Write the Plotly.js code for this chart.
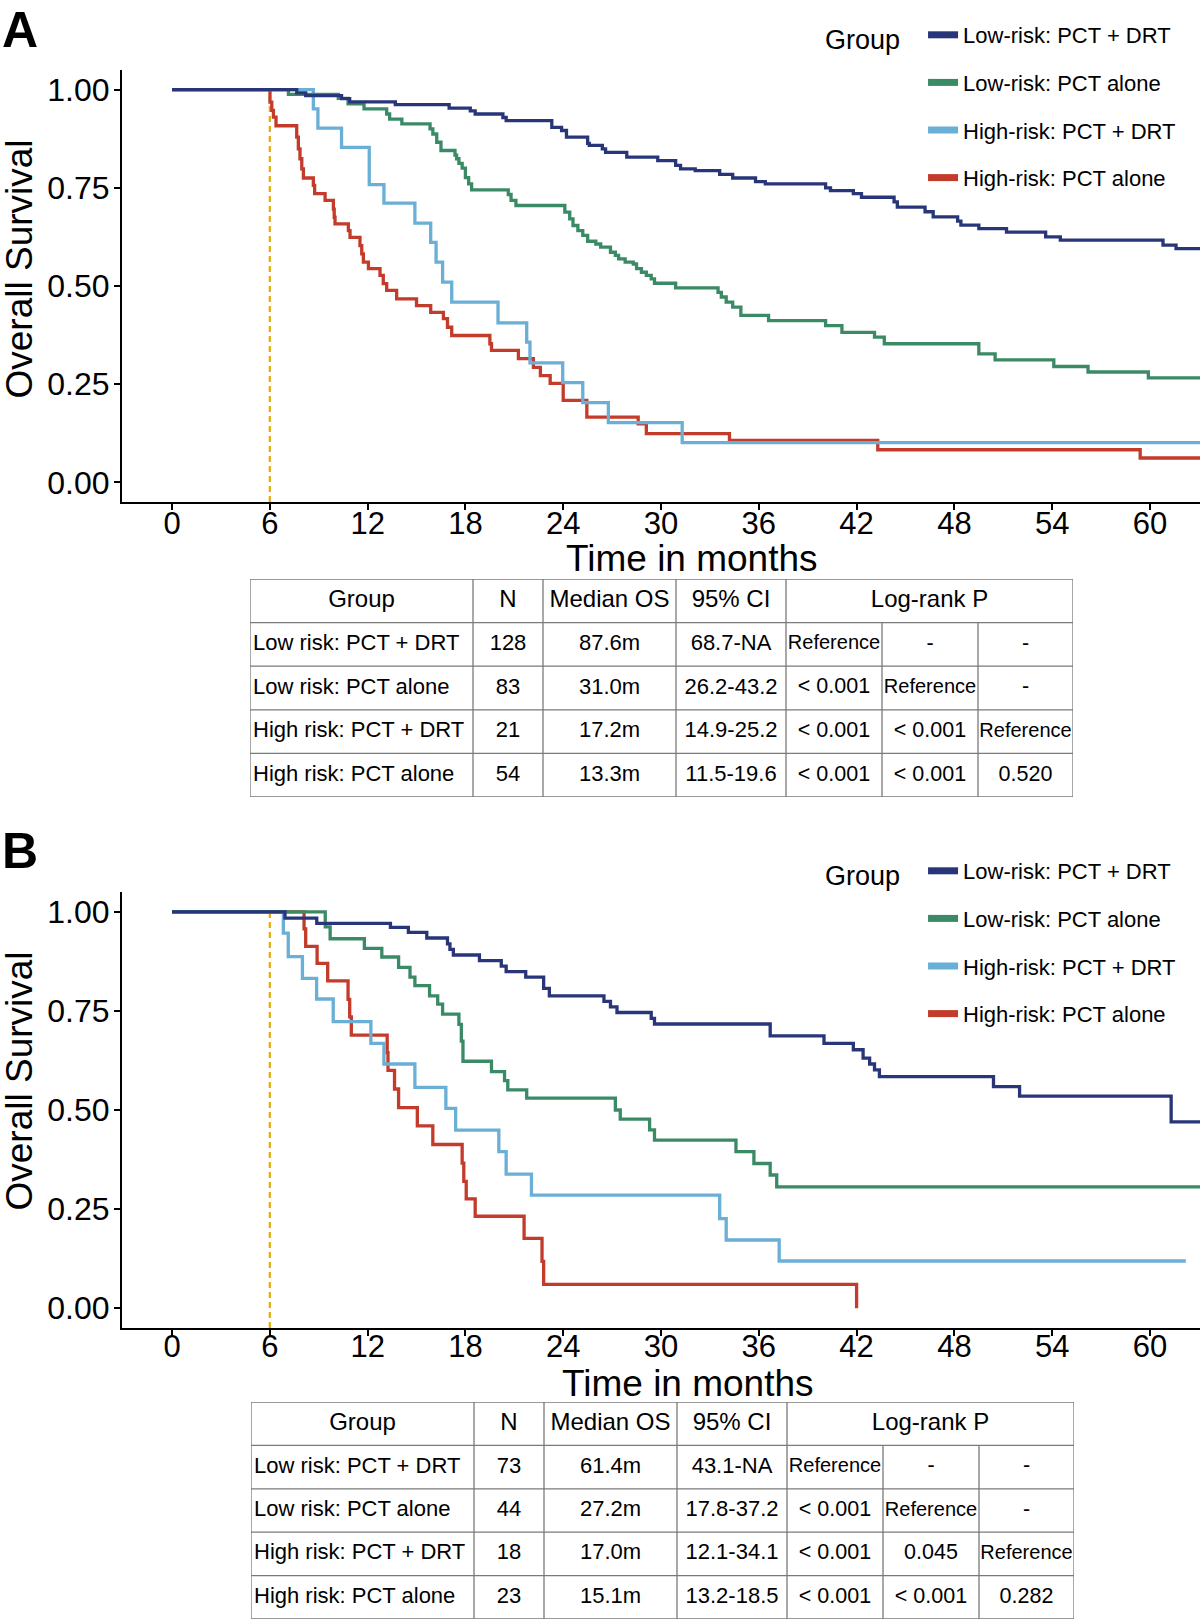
<!DOCTYPE html>
<html>
<head>
<meta charset="utf-8">
<script src="https://cdn.plot.ly/plotly-3.0.1.min.js"></script>
<style>html,body{margin:0;padding:0;background:#fff;}#chart{width:1200px;height:1622px;}</style>
</head>
<body>
<div id="chart"></div>
<script>
// ---------------- data ----------------
const groupNames = ["Low-risk: PCT + DRT", "Low-risk: PCT alone", "High-risk: PCT + DRT", "High-risk: PCT alone"];
const landmarkMonth = 6;
const monthTicks = [0, 6, 12, 18, 24, 30, 36, 42, 48, 54, 60];
const survTicks = [0, 0.25, 0.5, 0.75, 1];

// Panel A curves (months, overall survival)
const aLowDrtMonths = [0, 7.65, 8.2, 10.4, 10.9, 13.7, 17.0, 18.3, 18.6, 20.3, 20.5, 23.3, 23.9, 24.2, 25.5, 25.6, 26.4, 26.6, 27.9, 29.8, 30.9, 31.2, 32.1, 33.6, 34.4, 35.8, 36.4, 40.1, 40.4, 41.8, 42.3, 44.3, 44.5, 46.2, 46.7, 48.2, 48.4, 49.5, 51.2, 53.6, 54.5, 60.8, 61.6, 63.1];
const aLowDrtSurv = [1, 0.992, 0.985, 0.977, 0.969, 0.962, 0.953, 0.946, 0.938, 0.929, 0.921, 0.904, 0.896, 0.879, 0.863, 0.858, 0.849, 0.840, 0.828, 0.819, 0.807, 0.798, 0.794, 0.784, 0.775, 0.766, 0.760, 0.750, 0.743, 0.735, 0.726, 0.714, 0.701, 0.689, 0.676, 0.665, 0.655, 0.646, 0.637, 0.625, 0.617, 0.604, 0.595, 0.595];

const aLowAloneMonths = [0, 7.14, 10.2, 10.8, 11.78, 13.17, 13.35, 14.1, 15.83, 16.0, 16.24, 16.5, 17.36, 17.46, 17.6, 17.8, 18.0, 18.2, 18.38, 20.63, 20.8, 21.1, 24.1, 24.4, 24.6, 24.9, 25.2, 25.5, 26.0, 26.3, 26.9, 27.2, 27.4, 27.8, 28.3, 28.5, 28.8, 29.1, 29.4, 29.6, 30.9, 33.5, 33.7, 34.0, 34.4, 34.9, 36.6, 40.1, 41.1, 43.1, 43.7, 49.5, 50.5, 54.1, 56.2, 59.9, 63.1];
const aLowAloneSurv = [1, 0.988, 0.978, 0.964, 0.951, 0.938, 0.925, 0.913, 0.900, 0.887, 0.866, 0.845, 0.833, 0.824, 0.812, 0.800, 0.776, 0.760, 0.745, 0.733, 0.718, 0.705, 0.688, 0.671, 0.654, 0.641, 0.629, 0.614, 0.607, 0.599, 0.586, 0.578, 0.569, 0.561, 0.556, 0.544, 0.535, 0.527, 0.518, 0.507, 0.495, 0.484, 0.472, 0.459, 0.446, 0.425, 0.412, 0.399, 0.382, 0.370, 0.353, 0.327, 0.312, 0.295, 0.281, 0.266, 0.266];

const aHighDrtMonths = [0, 8.67, 8.95, 10.4, 12.1, 13.0, 14.9, 15.87, 16.2, 16.6, 17.16, 20.0, 21.76, 21.96, 23.97, 25.2, 26.77, 31.3, 63.1];
const aHighDrtSurv = [1, 0.951, 0.902, 0.853, 0.758, 0.711, 0.660, 0.611, 0.561, 0.510, 0.459, 0.406, 0.357, 0.304, 0.254, 0.203, 0.152, 0.101, 0.101];

const aHighAloneMonths = [0, 6.01, 6.12, 6.22, 6.38, 7.65, 7.75, 7.85, 7.96, 8.06, 8.67, 8.75, 9.39, 9.9, 9.95, 10.0, 10.82, 10.92, 11.53, 11.64, 11.74, 12.05, 12.76, 12.96, 13.17, 13.78, 15.0, 15.87, 16.65, 16.9, 17.16, 19.5, 19.6, 21.25, 22.17, 22.6, 23.2, 24.0, 25.45, 28.6, 29.1, 34.2, 43.3, 59.4, 63.1];
const aHighAloneSurv = [1, 0.968, 0.947, 0.930, 0.908, 0.879, 0.849, 0.824, 0.798, 0.775, 0.756, 0.735, 0.718, 0.696, 0.675, 0.658, 0.641, 0.624, 0.603, 0.582, 0.561, 0.544, 0.527, 0.506, 0.489, 0.467, 0.450, 0.433, 0.417, 0.395, 0.374, 0.353, 0.336, 0.315, 0.293, 0.272, 0.252, 0.209, 0.166, 0.149, 0.124, 0.107, 0.083, 0.062, 0.062];

// Panel B curves
const bLowDrtMonths = [0, 6.93, 8.88, 13.4, 14.5, 15.63, 16.9, 17.05, 17.26, 18.86, 20.2, 20.5, 21.7, 22.8, 23.15, 26.5, 26.9, 27.3, 29.4, 29.6, 36.7, 40.0, 41.8, 42.4, 42.8, 43.1, 43.4, 50.4, 52.0, 61.3, 63.1];
const bLowDrtSurv = [1, 0.984, 0.971, 0.961, 0.948, 0.934, 0.919, 0.905, 0.891, 0.877, 0.863, 0.849, 0.835, 0.807, 0.788, 0.774, 0.760, 0.746, 0.731, 0.717, 0.687, 0.668, 0.652, 0.631, 0.616, 0.601, 0.584, 0.559, 0.535, 0.470, 0.470];

const bLowAloneMonths = [0, 9.4, 9.7, 11.8, 12.87, 13.9, 14.6, 14.9, 15.8, 16.3, 16.6, 17.6, 17.75, 17.85, 19.6, 20.4, 20.6, 21.76, 27.2, 27.5, 29.3, 29.6, 34.6, 35.7, 36.7, 37.1, 63.1];
const bLowAloneSurv = [1, 0.962, 0.932, 0.908, 0.886, 0.860, 0.835, 0.814, 0.788, 0.767, 0.742, 0.716, 0.674, 0.623, 0.597, 0.574, 0.551, 0.530, 0.500, 0.477, 0.450, 0.424, 0.395, 0.365, 0.336, 0.306, 0.306];

const bHighDrtMonths = [0, 6.83, 7.13, 8.0, 8.87, 9.89, 12.2, 13.0, 14.9, 16.8, 17.4, 20.05, 20.5, 22.05, 33.6, 34.0, 37.25, 62.2];
const bHighDrtSurv = [1, 0.946, 0.887, 0.832, 0.780, 0.723, 0.668, 0.616, 0.557, 0.504, 0.449, 0.395, 0.338, 0.285, 0.226, 0.172, 0.119, 0.119];

const bHighAloneMonths = [0, 8.1, 8.2, 8.9, 9.55, 10.8, 10.9, 11.0, 13.2, 13.25, 13.65, 13.9, 15.05, 16.0, 17.8, 17.9, 18.05, 18.6, 21.6, 22.7, 22.8, 42.0];
const bHighAloneSurv = [1, 0.957, 0.913, 0.870, 0.826, 0.779, 0.735, 0.689, 0.645, 0.600, 0.553, 0.506, 0.460, 0.413, 0.366, 0.320, 0.276, 0.232, 0.176, 0.118, 0.060, 0.0];

// Tables
const tableHeader = ["Group", "N", "Median OS", "95% CI", "Log-rank P"];
const tableGroups = ["Low risk: PCT + DRT", "Low risk: PCT alone", "High risk: PCT + DRT", "High risk: PCT alone"];
const aN = ["128", "83", "21", "54"];
const aMedian = ["87.6m", "31.0m", "17.2m", "13.3m"];
const aCI = ["68.7-NA", "26.2-43.2", "14.9-25.2", "11.5-19.6"];
const aP1 = ["Reference", "< 0.001", "< 0.001", "< 0.001"];
const aP2 = ["-", "Reference", "< 0.001", "< 0.001"];
const aP3 = ["-", "-", "Reference", "0.520"];
const bN = ["73", "44", "18", "23"];
const bMedian = ["61.4m", "27.2m", "17.0m", "15.1m"];
const bCI = ["43.1-NA", "17.8-37.2", "12.1-34.1", "13.2-18.5"];
const bP1 = ["Reference", "< 0.001", "< 0.001", "< 0.001"];
const bP2 = ["-", "Reference", "0.045", "< 0.001"];
const bP3 = ["-", "-", "Reference", "0.282"];

// ---------------- styling / layout ----------------
const FONT = "'Liberation Sans', Arial, sans-serif";
const W = 1200, H = 1622;
const colors = ["#283679", "#3A8A66", "#6AAFD6", "#C33B2A"];
const landmarkColor = "#E3B01A";
const xRange = [-3.07, 63.07];
const yRange = [-0.05, 1.05];
const fx = p => p / W;
const fy = p => 1 - p / H;

const panels = [
  {xa: "x", ya: "y", top: 70, bottom: 502, legend: "legend", tickShift: -13,
   curves: [[aLowDrtMonths, aLowDrtSurv], [aLowAloneMonths, aLowAloneSurv], [aHighDrtMonths, aHighDrtSurv], [aHighAloneMonths, aHighAloneSurv]]},
  {xa: "x2", ya: "y2", top: 892, bottom: 1328, legend: "legend2", tickShift: -16,
   curves: [[bLowDrtMonths, bLowDrtSurv], [bLowAloneMonths, bLowAloneSurv], [bHighDrtMonths, bHighDrtSurv], [bHighAloneMonths, bHighAloneSurv]]}
];

const traces = [];
panels.forEach(p => {
  traces.push({x: [landmarkMonth, landmarkMonth], y: [yRange[0], 1], xaxis: p.xa, yaxis: p.ya, mode: "lines",
    line: {color: landmarkColor, width: 2.3, dash: "6px,4px"}, showlegend: false, hoverinfo: "skip"});
  for (let i = 3; i >= 0; i--) {
    traces.push({x: p.curves[i][0], y: p.curves[i][1], xaxis: p.xa, yaxis: p.ya, mode: "lines",
      line: {shape: "hv", color: colors[i], width: 3.3}, showlegend: false, hoverinfo: "skip", name: groupNames[i]});
  }
  for (let i = 0; i < 4; i++) {
    traces.push({x: [null], y: [null], xaxis: p.xa, yaxis: p.ya, mode: "lines", name: groupNames[i],
      legend: p.legend, legendgroup: p.legend + i, line: {color: colors[i], width: 7}, showlegend: true, hoverinfo: "skip"});
  }
});

function xAxisCfg(anchor, p) {
  return {domain: [fx(122), 1], range: xRange, anchor: anchor, tickvals: monthTicks, ticks: "outside", ticklen: 6,
    tickwidth: 1.5, tickcolor: "#000", showline: true, linecolor: "#000", linewidth: 2, showgrid: false, zeroline: false,
    ticklabelstandoff: p.tickShift, tickfont: {size: 31, family: FONT, color: "#000"}, fixedrange: true};
}
function yAxisCfg(anchor, p) {
  return {domain: [fy(p.bottom), fy(p.top)], range: yRange, anchor: anchor, tickvals: survTicks, tickformat: ".2f",
    ticks: "outside", ticklen: 6, tickwidth: 1.5, tickcolor: "#000", showline: true, linecolor: "#000", linewidth: 2,
    ticklabelstandoff: -2, showgrid: false, zeroline: false, tickfont: {size: 32, family: FONT, color: "#000"}, fixedrange: true};
}

// table geometry (table pixel units)
const colEdges = [0, 223, 293, 426, 536, 632, 728, 823];
const tables = [
  {xa: "x3", ya: "y3", left: 250, top: 579, bottom: 797, cols: [aN, aMedian, aCI, aP1, aP2, aP3]},
  {xa: "x4", ya: "y4", left: 251, top: 1402, bottom: 1619, cols: [bN, bMedian, bCI, bP1, bP2, bP3]}
];
const shapes = [];
const lineStyle = {color: "#7a7a7a", width: 1.3};
tables.forEach(t => {
  const ctr = c => (colEdges[c] + colEdges[c + 1]) / 2;
  const xs = [], ys = [], txt = [], sz = [];
  [ctr(0), ctr(1), ctr(2), ctr(3), (colEdges[4] + colEdges[7]) / 2].forEach((x, k) => {
    xs.push(x); ys.push(0.5); txt.push(tableHeader[k]); sz.push(24);
  });
  t.cols.forEach((col, c) => {
    col.forEach((v, r) => {
      xs.push(ctr(c + 1)); ys.push(r + 1.5); txt.push(v);
      sz.push(c >= 3 ? (v === "Reference" ? 20 : 21.5) : 22);
    });
  });
  traces.push({x: xs, y: ys, text: txt, mode: "text", xaxis: t.xa, yaxis: t.ya, textposition: "middle center",
    textfont: {size: sz, family: FONT, color: "#000"}, showlegend: false, hoverinfo: "skip", cliponaxis: false});
  traces.push({x: tableGroups.map(() => 3), y: tableGroups.map((g, r) => r + 1.5), text: tableGroups, mode: "text",
    xaxis: t.xa, yaxis: t.ya, textposition: "middle right", textfont: {size: 22, family: FONT, color: "#000"},
    showlegend: false, hoverinfo: "skip", cliponaxis: false});
  shapes.push({type: "rect", xref: t.xa, yref: t.ya, x0: 0, x1: colEdges[7], y0: 0, y1: 5, line: lineStyle});
  for (let r = 1; r <= 4; r++) shapes.push({type: "line", xref: t.xa, yref: t.ya, x0: 0, x1: colEdges[7], y0: r, y1: r, line: lineStyle});
  for (let c = 1; c <= 6; c++) shapes.push({type: "line", xref: t.xa, yref: t.ya, x0: colEdges[c], x1: colEdges[c], y0: c >= 5 ? 1 : 0, y1: 5, line: lineStyle});
});
function tableX(t) { return {domain: [fx(t.left), fx(t.left + colEdges[7])], range: [0, colEdges[7]], anchor: t.ya, visible: false, fixedrange: true}; }
function tableY(t) { return {domain: [fy(t.bottom), fy(t.top)], range: [5, 0], anchor: t.xa, visible: false, fixedrange: true}; }

function legendCfg(topPx) {
  return {x: fx(823), y: fy(topPx), xanchor: "left", yanchor: "top", bgcolor: "rgba(0,0,0,0)", borderwidth: 0,
    font: {size: 22, family: FONT, color: "#000"},
    title: {text: "Group\u00a0\u00a0", side: "left", font: {size: 27, family: FONT, color: "#000"}},
    tracegroupgap: 16, itemclick: false, itemdoubleclick: false};
}

const annotations = [
  {text: "<b>A</b>", x: 0, y: 1, xref: "paper", yref: "paper", xanchor: "left", yanchor: "top", xshift: 0, yshift: 0, showarrow: false, font: {size: 50, family: FONT, color: "#000"}},
  {text: "<b>B</b>", x: 0, y: fy(823), xref: "paper", yref: "paper", xanchor: "left", yanchor: "top", xshift: 0, yshift: 2, showarrow: false, font: {size: 50, family: FONT, color: "#000"}},
  {text: "Overall Survival", textangle: -90, x: fx(18.5), y: fy(269), xref: "paper", yref: "paper", xanchor: "center", yanchor: "middle", showarrow: false, font: {size: 37, family: FONT, color: "#000"}},
  {text: "Overall Survival", textangle: -90, x: fx(18.5), y: fy(1081), xref: "paper", yref: "paper", xanchor: "center", yanchor: "middle", showarrow: false, font: {size: 37, family: FONT, color: "#000"}},
  {text: "Time in months", x: fx(692), y: fy(558), xref: "paper", yref: "paper", xanchor: "center", yanchor: "middle", showarrow: false, font: {size: 37, family: FONT, color: "#000"}},
  {text: "Time in months", x: fx(688), y: fy(1383), xref: "paper", yref: "paper", xanchor: "center", yanchor: "middle", showarrow: false, font: {size: 37, family: FONT, color: "#000"}}
];

const layout = {
  width: W, height: H, margin: {l: 0, r: 0, t: 0, b: 0}, paper_bgcolor: "#fff", plot_bgcolor: "rgba(0,0,0,0)",
  font: {family: FONT, color: "#000"}, showlegend: true, hovermode: false,
  xaxis: xAxisCfg("y", panels[0]), yaxis: yAxisCfg("x", panels[0]),
  xaxis2: xAxisCfg("y2", panels[1]), yaxis2: yAxisCfg("x2", panels[1]),
  xaxis3: tableX(tables[0]), yaxis3: tableY(tables[0]),
  xaxis4: tableX(tables[1]), yaxis4: tableY(tables[1]),
  legend: legendCfg(14), legend2: legendCfg(850),
  shapes: shapes, annotations: annotations
};

Plotly.newPlot("chart", traces, layout, {displayModeBar: false, responsive: false});
</script>
</body>
</html>
